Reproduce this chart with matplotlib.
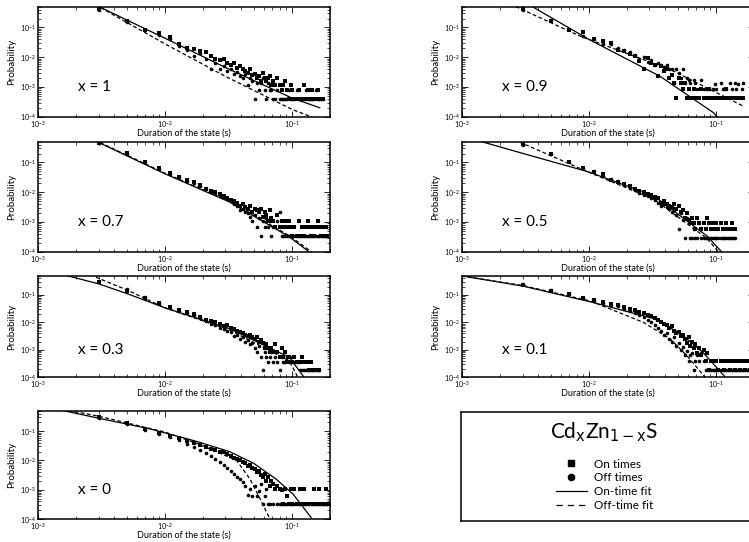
import numpy as np
import matplotlib.pyplot as plt
from matplotlib.lines import Line2D

plt.rcParams['font.family'] = ['Lato', 'DejaVu Sans']

N = None

# histogram bin centres in ms (same for every panel)
TIMES_MS = [3, 5, 7, 9, 11, 13, 15, 17, 19, 21, 23,
            25, 27, 29, 31, 33, 35, 37, 39, 41, 43, 45,
            47, 49, 51, 53, 55, 57, 59, 61, 63, 65, 67,
            69, 71, 74, 77, 80, 83, 86, 89, 92, 95, 98,
            101, 105, 109, 113, 117, 121, 125, 129, 133, 137, 141,
            145, 150, 155, 160, 165, 170, 175, 180, 185, 190, 195]

# log10 probabilities (None = no point)
ON_X1 = [-0.38, -0.78, -1.10, -1.20, -1.32, -1.55, -1.68, -1.72, -1.80, -1.82, -1.95,
         -2.05, -2.10, -2.05, -2.20, -2.25, -2.18, -2.35, -2.30, -2.40, -2.45, -2.52,
         -2.40, -2.60, -2.55, -2.70, -2.62, -2.80, -2.52, -2.70, -2.80, -2.70, -2.62,
         -2.92, -2.80, -2.92, -2.70, -2.92, -3.10, -2.92, -2.80, -3.10, -3.40, -2.92,
         -3.10, -3.40, -3.40, -3.10, -3.40, -3.40, -2.92, -3.40, -3.10, -3.40, -3.40,
         -3.10, -3.40, -3.40, -3.10, -3.40, -3.40, -3.40, N, N, N, N]
OFF_X1 = [-0.42, -0.80, -1.08, -1.25, -1.40, -1.62, -1.75, -1.95, -1.85, -2.05, -2.38,
          -2.20, -2.38, -2.30, -2.45, -2.40, -2.55, -2.50, -2.62, -2.70, -2.58, -2.92,
          -2.70, -2.80, -3.40, -2.86, -3.10, -2.86, -2.70, -3.10, -3.40, -2.86, -3.10,
          -3.10, -3.40, -3.40, -3.10, -3.40, -3.40, -3.40, -3.40, -3.40, -3.10, -3.40,
          -3.40, -3.40, -3.10, -3.40, -3.40, -3.40, -3.40, -3.10, -3.40, -3.40, -3.40,
          -3.40, -3.40, -3.10, -3.40, -3.40, -3.40, -3.40, N, N, N, N]

ON_X09 = [-0.37, -0.79, -1.09, -1.14, -1.38, -1.46, -1.52, -1.75, -1.80, -1.88, -1.95,
          -2.13, -2.39, -2.02, -2.19, -2.27, -2.64, -2.30, -2.45, -2.41, -2.69, -2.60,
          -2.86, -3.37, -2.69, -2.86, -3.06, -2.86, -3.37, -3.06, -3.37, -3.37, -3.06,
          -3.37, -3.37, -3.37, -3.06, -3.37, -3.37, -3.37, -3.06, -3.37, -3.37, -3.37,
          -3.37, -3.37, -3.37, -3.37, -3.37, -3.06, -3.37, -3.37, -3.37, -3.37, -3.37,
          -3.37, -3.37, -3.37, -3.37, -3.37, N, N, N, N, N, N]
OFF_X09 = [-0.42, -0.75, -1.05, -1.29, -1.40, -1.57, -1.55, -1.70, -1.77, -1.83, -1.91,
           -2.05, -2.00, -2.15, -2.10, -2.25, -2.20, -2.27, -2.34, -2.27, -2.41, -2.40,
           -2.86, -2.41, -2.52, -2.69, -2.41, -2.86, -2.69, -2.77, -2.86, N, -2.77,
           -2.86, -3.06, N, -2.77, -3.06, N, -3.06, -3.06, N, -3.06, -2.89,
           -3.06, N, -2.86, -3.06, N, -3.06, N, -2.86, -3.06, N, -2.86,
           -3.06, -2.89, N, -3.06, -2.86, N, N, N, N, N, N]

ON_X07 = [-0.33, -0.69, -1.00, -1.20, -1.37, -1.48, -1.58, -1.67, -1.76, -1.89, -1.95,
          -2.00, -2.05, -2.12, -2.20, -2.25, -2.30, -2.35, -2.45, -2.40, -2.50, -2.55,
          -2.45, -2.66, -2.55, -2.60, -2.66, -2.55, -2.82, -2.66, -2.77, -2.98, -2.60,
          -2.86, -2.98, -3.16, -2.77, -3.16, -2.98, -3.16, -2.98, -3.16, -2.98, -3.16,
          -3.46, -3.16, -3.46, -2.98, -3.46, -3.16, -3.46, -3.16, -2.98, -3.16, -3.46,
          -3.16, -3.46, -3.16, -2.98, -3.16, -3.46, -3.16, -3.46, -3.16, -3.46, N]
OFF_X07 = [-0.36, -0.72, -0.98, -1.22, -1.39, -1.50, -1.62, -1.70, -1.80, -1.86, -1.98,
           -2.03, -2.10, -2.16, -2.24, -2.30, -2.38, -2.45, -2.60, -2.55, -2.66, -2.70,
           -2.82, -2.98, -2.75, -3.16, -2.86, -3.46, -2.98, -3.16, -2.86, -3.16, -2.98,
           -3.46, -3.16, N, -2.98, -2.66, -3.46, -3.46, -3.46, -3.46, -3.46, -3.46,
           -3.46, -3.46, -3.46, -3.46, -3.46, -3.46, -3.46, -3.46, -3.46, -3.46, -3.46,
           -3.46, -3.46, -3.46, -3.46, -3.46, -3.46, -3.46, -3.46, -3.46, -3.46, N]

ON_X05 = [-0.38, -0.72, -1.00, -1.17, -1.33, -1.40, -1.58, -1.65, -1.72, -1.80, -1.90,
          -1.95, -2.00, -2.05, -2.10, -2.15, -2.20, -2.35, -2.30, -2.40, -2.45, -2.50,
          -2.40, -2.55, -2.45, -2.66, -2.60, -2.85, -2.70, -2.93, -3.04, -2.85, -3.04,
          -3.22, -2.85, -3.04, -3.22, -3.04, -3.22, -2.85, -3.04, -3.22, -3.04, -3.22,
          -3.04, -3.22, -3.04, -3.22, -3.22, -3.04, -3.22, -3.22, -3.04, -3.22, -3.22,
          N, N, N, N, N, N, N, N, N, N, N]
OFF_X05 = [-0.40, -0.70, -0.98, -1.20, -1.30, -1.45, -1.55, -1.62, -1.75, -1.85, -1.93,
           -2.02, -2.08, -2.12, -2.18, -2.25, -2.35, -2.45, -2.40, -2.50, -2.55, -2.66,
           -2.60, -2.75, -3.22, -2.70, -2.93, -3.53, -2.85, -3.04, -3.53, -3.53, -3.22,
           -3.53, -3.53, -3.04, -3.53, -3.53, -3.53, -3.53, -3.53, -3.53, -3.53, -3.53,
           -3.53, -3.53, -3.53, -3.53, -3.53, -3.53, -3.53, -3.53, -3.53, -3.53, -3.53,
           N, N, N, N, N, N, N, N, N, N, N]

ON_X03 = [-0.52, -0.85, -1.11, -1.28, -1.45, -1.55, -1.64, -1.71, -1.82, -1.90, -1.95,
          -2.00, -2.05, -2.15, -2.10, -2.20, -2.25, -2.30, -2.35, -2.40, -2.45, -2.50,
          -2.45, -2.55, -2.60, -2.55, -2.70, -2.65, -2.75, -2.92, -2.80, -2.92, -3.08,
          -2.92, -3.08, -2.80, -3.08, -3.27, -2.92, -3.27, -3.08, -3.45, -3.27, -3.45,
          -3.45, -3.27, -3.45, -3.45, -3.45, -3.27, -3.45, -3.45, -3.45, -3.75, -3.45,
          -3.75, -3.75, -3.75, -3.75, -3.75, N, N, N, N, N, N]
OFF_X03 = [-0.50, -0.80, -1.08, -1.30, -1.47, -1.58, -1.67, -1.75, -1.85, -1.95, -2.05,
           -2.10, -2.20, -2.25, -2.30, -2.35, -2.50, -2.45, -2.60, -2.55, -2.70, -2.65,
           -2.80, -2.75, -2.92, -3.08, -2.85, -3.27, -3.75, -3.08, -3.27, -3.45, -3.27,
           -3.08, -3.45, -3.27, -3.45, -3.75, -3.27, -3.45, -3.45, -3.27, -3.45, -3.45,
           -3.27, -3.45, -3.45, -3.45, -3.75, -3.75, -3.75, -3.75, -3.75, -3.75, -3.75,
           -3.75, -3.75, -3.75, -3.75, -3.75, N, N, N, N, N, N]

ON_X01 = [-0.64, -0.85, -0.98, -1.10, -1.20, -1.27, -1.33, -1.38, -1.43, -1.50, -1.55,
          -1.62, -1.67, -1.72, -1.78, -1.85, -1.90, -1.97, -2.05, -2.10, -2.20, -2.15,
          -2.30, -2.40, -2.35, -2.50, -2.45, -2.60, -2.75, -2.55, -2.85, -2.70, -2.95,
          -2.80, -3.10, -2.95, -3.20, -3.00, -3.41, -3.10, -3.73, -3.41, -3.41, -3.41,
          -3.41, -3.73, -3.41, -3.41, -3.73, -3.41, -3.41, -3.73, -3.41, -3.41, -3.73,
          -3.41, -3.41, -3.73, -3.41, -3.41, -3.73, -3.41, -3.41, -3.73, -3.41, -3.41]
OFF_X01 = [-0.62, -0.83, -0.96, -1.12, -1.22, -1.29, -1.36, -1.42, -1.50, -1.58, -1.66,
           -1.75, -1.82, -1.92, -2.00, -2.10, -2.22, -2.30, -2.45, -2.40, -2.60, -2.70,
           -2.55, -2.85, -2.75, -3.00, -2.90, -3.20, -3.05, -3.41, -3.20, -3.10, -3.73,
           -3.41, -3.20, -3.41, -3.10, -3.41, -3.73, N, -3.73, -3.73, -3.73, -3.73,
           -3.73, -3.73, -3.73, -3.73, -3.73, -3.73, -3.73, -3.73, -3.73, -3.73, -3.73,
           -3.73, -3.73, -3.73, -3.73, -3.73, -3.73, -3.73, -3.73, -3.73, -3.73, -3.73]

ON_X0 = [-0.50, -0.72, -0.92, -1.06, -1.17, -1.24, -1.33, -1.40, -1.48, -1.55, -1.60,
         -1.65, -1.70, -1.72, -1.78, -1.85, -1.90, -1.95, -2.00, -2.05, -2.10, -2.20,
         -2.15, -2.25, -2.30, -2.40, -2.35, -2.50, -2.55, -2.46, -2.69, -2.56, -2.86,
         -2.69, -2.80, -2.97, -2.86, -2.97, -3.00, -3.48, -2.97, -3.20, -3.48, -2.97,
         -3.48, -2.97, -3.48, -3.48, -2.97, -3.48, -2.97, -3.48, -3.48, -3.48, -3.48,
         -3.48, -2.97, -3.48, -3.48, -2.97, -3.48, -3.48, -3.48, -2.97, -3.48, -3.48]
OFF_X0 = [-0.55, -0.77, -0.95, -1.08, -1.20, -1.30, -1.45, -1.55, -1.65, -1.75, -1.85,
          -1.96, -2.07, -2.15, -2.25, -2.35, -2.46, -2.55, -2.63, -2.75, -2.86, -3.17,
          -2.97, -3.20, -2.86, -3.20, -3.05, -2.80, -3.48, -3.20, -2.97, -3.48, -3.48,
          N, -3.48, N, -3.48, -3.48, -3.48, -3.48, -3.48, -3.48, -3.48, -3.48,
          -3.48, -3.48, -3.48, -3.48, -3.48, -3.48, -3.48, -3.48, -3.48, -3.48, -3.48,
          -3.48, -3.48, -3.48, -3.48, -3.48, -3.48, -3.48, -3.48, -3.48, -3.48, -3.48]

# fitted curves, read as (log10 t, log10 p) pairs
ONFIT_X1_T = [-3.0, -2.52, -2.0, -1.52, -1.0, -0.78]
ONFIT_X1_P = [0.65, -0.30, -1.36, -2.35, -3.37, -3.70]
OFFFIT_X1_T = [-3.0, -2.52, -2.0, -1.52, -1.0, -0.82]
OFFFIT_X1_P = [0.75, -0.30, -1.55, -2.65, -3.75, -4.05]

ONFIT_X09_T = [-3.0, -2.45, -2.0, -1.44, -1.02, -0.99]
ONFIT_X09_P = [0.95, -0.29, -1.40, -2.64, -3.86, -4.0]
OFFFIT_X09_T = [-3.0, -2.58, -2.07, -1.36, -0.79]
OFFFIT_X09_P = [0.5, -0.29, -1.29, -2.41, -3.63]

ONFIT_X07_T = [-3.0, -2.55, -2.0, -1.49, -1.02, -0.85]
ONFIT_X07_P = [0.6, -0.27, -1.38, -2.33, -3.5, -4.05]
OFFFIT_X07_T = [-3.0, -2.55, -2.0, -1.49, -1.02, -0.83]
OFFFIT_X07_P = [0.65, -0.25, -1.36, -2.30, -3.46, -4.05]

ONFIT_X05_T = [-3.0, -2.87, -2.5, -2.0, -1.49, -1.07, -0.955]
ONFIT_X05_P = [-0.11, -0.27, -0.72, -1.32, -2.12, -3.47, -4.0]
OFFFIT_X05_T = [-3.0, -2.57, -2.0, -1.49, -1.07, -0.98]
OFFFIT_X05_P = [0.5, -0.27, -1.33, -2.23, -3.55, -4.0]

ONFIT_X03_T = [-3.0, -2.77, -2.52, -2.3, -2.0, -1.49, -1.02, -0.90]
ONFIT_X03_P = [-0.05, -0.30, -0.60, -0.95, -1.47, -2.23, -3.27, -4.02]
OFFFIT_X03_T = [-3.0, -2.52, -2.3, -2.0, -1.49, -1.02, -0.95]
OFFFIT_X03_P = [0.5, -0.40, -0.82, -1.47, -2.28, -3.40, -4.02]

ONFIT_X01_T = [-3.0, -2.52, -1.99, -1.49, -1.28, -1.1, -0.92]
ONFIT_X01_P = [-0.31, -0.68, -1.25, -1.86, -2.4, -3.1, -4.02]
OFFFIT_X01_T = [-3.0, -2.52, -1.99, -1.57, -1.36, -1.23, -1.08]
OFFFIT_X01_P = [-0.31, -0.66, -1.22, -2.0, -2.6, -3.2, -4.02]

ONFIT_X0_T = [-3.0, -2.84, -2.52, -2.12, -1.75, -1.49, -1.3, -1.12, -0.99, -0.86, -0.84]
ONFIT_X0_P = [-0.1, -0.26, -0.56, -0.92, -1.35, -1.70, -2.1, -2.65, -3.15, -3.88, -4.0]
OFFFIT_X0_T = [-3.0, -2.75, -2.52, -2.0, -1.74, -1.435, -1.33, -1.25, -1.17]
OFFFIT_X0_P = [-0.05, -0.30, -0.49, -1.03, -1.43, -2.0, -2.63, -3.31, -4.02]

LABELS = ["x = 1", "x = 0.9", "x = 0.7", "x = 0.5", "x = 0.3", "x = 0.1", "x = 0"]

W, H = 749, 542
fig = plt.figure(figsize=(W / 100, H / 100), dpi=100)


def place(left, top, right, bottom):
    return [left / W, 1 - bottom / H, (right - left) / W, (bottom - top) / H]


cols = [(38, 330), (462, 754)]
rows = [(6.7, 116.7), (141.7, 251.7), (275.7, 377.3), (410.7, 519)]

panels = [
    (ON_X1, OFF_X1, ONFIT_X1_T, ONFIT_X1_P, OFFFIT_X1_T, OFFFIT_X1_P),
    (ON_X09, OFF_X09, ONFIT_X09_T, ONFIT_X09_P, OFFFIT_X09_T, OFFFIT_X09_P),
    (ON_X07, OFF_X07, ONFIT_X07_T, ONFIT_X07_P, OFFFIT_X07_T, OFFFIT_X07_P),
    (ON_X05, OFF_X05, ONFIT_X05_T, ONFIT_X05_P, OFFFIT_X05_T, OFFFIT_X05_P),
    (ON_X03, OFF_X03, ONFIT_X03_T, ONFIT_X03_P, OFFFIT_X03_T, OFFFIT_X03_P),
    (ON_X01, OFF_X01, ONFIT_X01_T, ONFIT_X01_P, OFFFIT_X01_T, OFFFIT_X01_P),
    (ON_X0, OFF_X0, ONFIT_X0_T, ONFIT_X0_P, OFFFIT_X0_T, OFFFIT_X0_P),
]

t = np.array(TIMES_MS) / 1000.0
dash = (0, (3, 2))

for i, (on, off, ft1, fp1, ft2, fp2) in enumerate(panels):
    r, c = divmod(i, 2)
    ax = fig.add_axes(place(cols[c][0], rows[r][0], cols[c][1], rows[r][1]))
    ax.loglog(t, 10 ** np.array(on, dtype=float), 's', color='k', ms=2.3, mew=0)
    ax.loglog(t, 10 ** np.array(off, dtype=float), 'o', color='k', ms=2.6, mew=0)
    ax.loglog(10 ** np.array(ft1), 10 ** np.array(fp1), '-', color='k', lw=0.9)
    ax.loglog(10 ** np.array(ft2), 10 ** np.array(fp2), color='k', lw=0.9, ls=dash)
    ax.set_xlim(1e-3, 0.2)
    ax.set_ylim(1e-4, 0.5)
    ax.tick_params(which='both', direction='in', top=True, right=True, labelsize=5, pad=1.5)
    ax.tick_params(which='major', length=4, width=0.6)
    ax.tick_params(which='minor', length=2, width=0.5)
    for s in ax.spines.values():
        s.set_linewidth(1.1)
    ax.set_xlabel("Duration of the state (s)", fontsize=6.5, labelpad=-1)
    ax.set_ylabel("Probability", fontsize=7, labelpad=3)
    ax.text(0.137, 0.27, LABELS[i], transform=ax.transAxes, fontsize=11, va='center')

# legend box in the last slot
lax = fig.add_axes(place(461, 411.7, 754, 521))
lax.set_xticks([])
lax.set_yticks([])
for s in lax.spines.values():
    s.set_linewidth(1.1)
lax.text(0.49, 0.81, r"Cd$_\mathsf{x}$Zn$_\mathsf{1-x}$S", transform=lax.transAxes,
         fontsize=15, ha='center', va='center')
handles = [
    Line2D([], [], marker='s', ls='none', color='k', ms=4.5),
    Line2D([], [], marker='o', ls='none', color='k', ms=4.5),
    Line2D([], [], ls='-', color='k', lw=0.9),
    Line2D([], [], ls=(0, (5, 4)), color='k', lw=0.9),
]
lax.legend(handles, ["On times", "Off times", "On-time fit", "Off-time fit"],
           loc='center', bbox_to_anchor=(0.49, 0.33), frameon=False, fontsize=8.5,
           handlelength=2.6, labelspacing=0.25, handletextpad=0.6, borderpad=0)

fig.savefig("out.png", dpi=100)
